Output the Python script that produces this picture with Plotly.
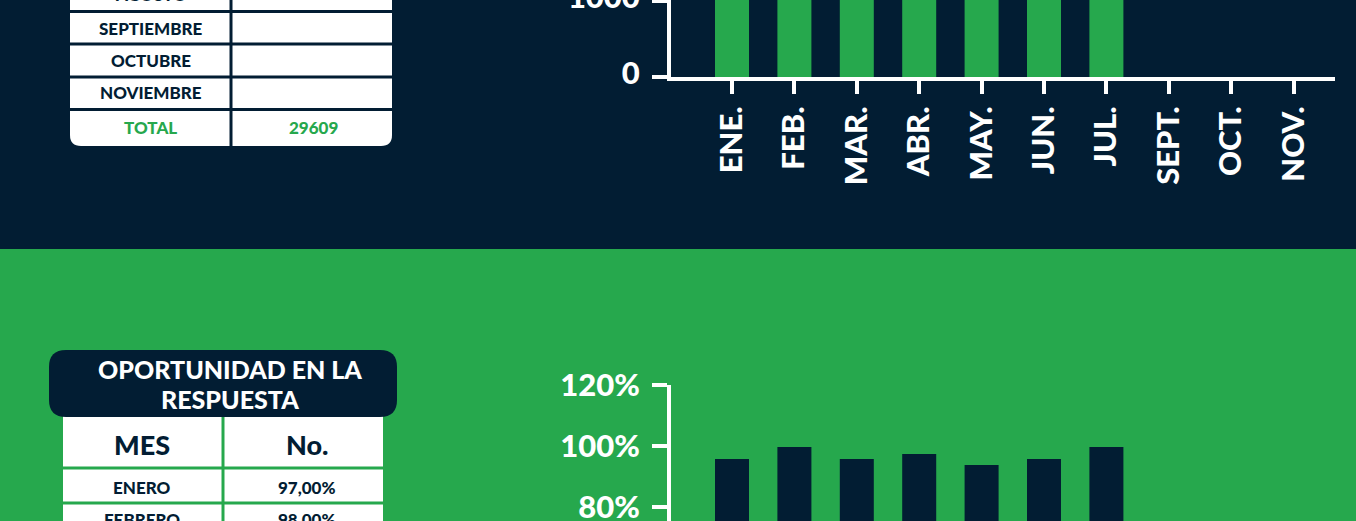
import plotly.graph_objects as go

W, H = 1356, 521
NAVY = "#021d33"
GREEN = "#26a84d"
FONT = "Lato"

# ---------------- data ----------------
months = ["ENE.", "FEB.", "MAR.", "ABR.", "MAY.", "JUN.", "JUL.", "SEPT.", "OCT.", "NOV."]
volume = [4100, 4300, 4500, 4200, 4400, 4000, 4109, None, None, None]
opportunity = [95.7, 99.7, 95.7, 97.4, 93.8, 95.7, 99.7, None, None, None]

y_ticks_top = [0, 1000]
y_ticks_bottom = [80, 100, 120]
y_ticklabels_bottom = ["80%", "100%", "120%"]

table_months_top = ["AGOSTO", "SEPTIEMBRE", "OCTUBRE", "NOVIEMBRE"]
total_label = "TOTAL"
total_value = "29609"

title_lines = ["OPORTUNIDAD EN LA", "RESPUESTA"]
header = ["MES", "No."]
table_months_bottom = ["ENERO", "FEBRERO"]
table_values_bottom = ["97,00%", "98,00%"]


def X(px):
    return px / W


def Y(py):
    return 1 - py / H


def rrect(x0, y0, x1, y1, tl, tr, br, bl):
    pts = []
    pts.append(f"M {X(x0+tl)},{Y(y0)}")
    pts.append(f"L {X(x1-tr)},{Y(y0)}")
    pts.append(f"Q {X(x1)},{Y(y0)} {X(x1)},{Y(y0+tr)}")
    pts.append(f"L {X(x1)},{Y(y1-br)}")
    pts.append(f"Q {X(x1)},{Y(y1)} {X(x1-br)},{Y(y1)}")
    pts.append(f"L {X(x0+bl)},{Y(y1)}")
    pts.append(f"Q {X(x0)},{Y(y1)} {X(x0)},{Y(y1-bl)}")
    pts.append(f"L {X(x0)},{Y(y0+tl)}")
    pts.append(f"Q {X(x0)},{Y(y0)} {X(x0+tl)},{Y(y0)}")
    pts.append("Z")
    return " ".join(pts)


fig = go.Figure()

fig.add_trace(go.Bar(x=months, y=volume, marker_color=GREEN, marker_line_width=0,
                     width=0.545, xaxis="x", yaxis="y", showlegend=False, cliponaxis=True,
                     hoverinfo="skip"))
fig.add_trace(go.Bar(x=months, y=opportunity, marker_color=NAVY, marker_line_width=0,
                     width=0.545, xaxis="x2", yaxis="y2", showlegend=False, cliponaxis=True,
                     hoverinfo="skip"))

# category geometry: ENE centre at 732px, step 62.4px, axis line 671..1335
step = 62.4
x_left, x_right = 671, 1335
c0 = 732
r0 = 0 - (c0 - x_left) / step
r1 = 0 + (x_right - c0) / step

tick_font = dict(family=FONT, size=31, color="white", weight=900)

# bottom y scale: 120 at 385px, 80 at 507px
ppu = (507 - 385) / 40.0
y2_bottom = 120 - (H - 385) / ppu

shapes = []
# green lower band
shapes.append(dict(type="rect", xref="paper", yref="paper", x0=-0.01, x1=1.01, y0=-0.05, y1=Y(249),
                   fillcolor=GREEN, line_width=0, layer="below"))
# top table
shapes.append(dict(type="path", xref="paper", yref="paper", path=rrect(70, -30, 392, 146, 0, 0, 11, 11),
                   fillcolor="white", line_width=0, layer="below"))
for yy in [11.5, 44, 77, 109.5]:
    shapes.append(dict(type="line", xref="paper", yref="paper", x0=X(70), x1=X(392), y0=Y(yy), y1=Y(yy),
                       line=dict(color=NAVY, width=3), layer="below"))
shapes.append(dict(type="line", xref="paper", yref="paper", x0=X(231), x1=X(231), y0=Y(-30), y1=Y(146),
                   line=dict(color=NAVY, width=3), layer="below"))
# bottom table
shapes.append(dict(type="rect", xref="paper", yref="paper", x0=X(63), x1=X(383), y0=Y(540), y1=Y(412),
                   fillcolor="white", line_width=0, layer="below"))
shapes.append(dict(type="path", xref="paper", yref="paper", path=rrect(49, 350, 397, 417, 17, 17, 17, 17),
                   fillcolor=NAVY, line_width=0, layer="below"))
shapes.append(dict(type="line", xref="paper", yref="paper", x0=X(223), x1=X(223), y0=Y(417), y1=Y(540),
                   line=dict(color=GREEN, width=3), layer="below"))
for yy in [468, 503]:
    shapes.append(dict(type="line", xref="paper", yref="paper", x0=X(63), x1=X(383), y0=Y(yy), y1=Y(yy),
                       line=dict(color=GREEN, width=3), layer="below"))

ann = []


def txt(s, x, y, size, color, weight=900):
    ann.append(dict(text=s, x=X(x), y=Y(y), xref="paper", yref="paper", showarrow=False,
                    xanchor="center", yanchor="middle",
                    font=dict(family=FONT, size=size, color=color, weight=weight)))


for s, yy in zip(table_months_top, [-5, 28, 60.5, 93]):
    txt(s, 150.5, yy, 17, NAVY)
txt(total_label, 150.5, 127, 17, GREEN)
txt(total_value, 313, 127, 17, GREEN)

txt(title_lines[0], 230, 369, 25, "white")
txt(title_lines[1], 230, 399, 25, "white")
txt(header[0], 142, 444, 27, NAVY)
txt(header[1], 307, 444, 27, NAVY)
for s, v, yy in zip(table_months_bottom, table_values_bottom, [487, 519]):
    txt(s, 142, yy, 17, NAVY)
    txt(v, 307, yy, 17, NAVY)

fig.update_layout(
    width=W, height=H, margin=dict(l=0, r=0, t=0, b=0, pad=0, autoexpand=False),
    paper_bgcolor=NAVY, plot_bgcolor="rgba(0,0,0,0)",
    bargap=0.45, showlegend=False, hovermode=False,
    shapes=shapes, annotations=ann,
    xaxis=dict(domain=[X(x_left), X(x_right)], anchor="y", type="category", range=[r0, r1],
               automargin=False, fixedrange=True,
               showline=True, linecolor="white", linewidth=4, showgrid=False, zeroline=False,
               ticks="outside", ticklen=13, tickwidth=4, tickcolor="white",
               tickangle=-90, tickfont=tick_font, ticklabelstandoff=0),
    yaxis=dict(domain=[Y(77), 1], anchor="x", range=[0, 1010], tickvals=y_ticks_top,
               automargin=False, fixedrange=True, ticklabeloverflow="allow",
               showline=True, linecolor="white", linewidth=4, showgrid=False, zeroline=False,
               ticks="outside", ticklen=15, tickwidth=4, tickcolor="white",
               tickfont=tick_font, ticklabelstandoff=6, ticklabelshift=-4),
    xaxis2=dict(domain=[X(x_left), X(x_right)], anchor="y2", type="category", range=[r0, r1],
                automargin=False, fixedrange=True,
                showline=False, showgrid=False, zeroline=False, showticklabels=False, ticks=""),
    yaxis2=dict(domain=[0, Y(385)], anchor="x2", range=[y2_bottom, 120], tickvals=y_ticks_bottom,
                ticktext=y_ticklabels_bottom, automargin=False, fixedrange=True,
                ticklabeloverflow="allow",
                showline=True, linecolor="white", linewidth=4, showgrid=False, zeroline=False,
                ticks="outside", ticklen=15, tickwidth=4, tickcolor="white",
                tickfont=tick_font, ticklabelstandoff=6),
)

fig.write_html("out.html", config={"displayModeBar": False},
               post_script="document.body.style.margin='0px';")
